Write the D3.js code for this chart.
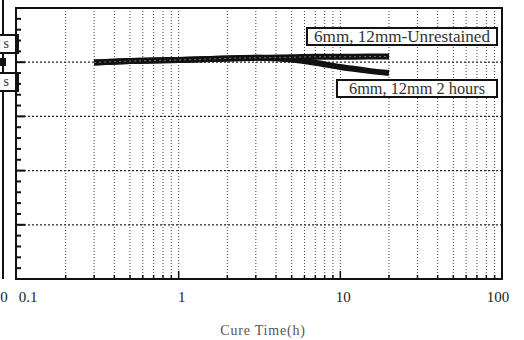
<!DOCTYPE html>
<html>
<head>
<meta charset="utf-8">
<script src="https://cdn.jsdelivr.net/npm/d3@7"></script>
<style>
  body { margin: 0; background: #fff; }
  text { font-family: "Liberation Serif", "DejaVu Serif", serif; }
</style>
</head>
<body>
<div id="chart"></div>
<script>
//Chart data
const cureTime = [0.3, 0.5, 0.7, 1, 2, 3, 5, 7, 10, 15, 20];
const unrestrained = [-0.005, 0.02, 0.03, 0.04, 0.07, 0.08, 0.09, 0.1, 0.1, 0.105, 0.105];
const twoHours = [-0.005, 0.02, 0.03, 0.04, 0.07, 0.08, 0.05, -0.01, -0.09, -0.16, -0.2];
const xTickLabels = [0.1, 1, 10, 100];
const yGridValues = [1, 0, -1, -2, -3, -4];
const legendLabels = ["6mm, 12mm-Unrestained", "6mm, 12mm 2 hours"];

//size of the svg
const width = 524;
const height = 340;

const svg = d3.select("#chart").append("svg")
  .attr("width", width)
  .attr("height", height);

//Scales
const xscale = d3.scaleLog().domain([0.1, 100]).range([17, 502]);
const yscale = d3.scaleLinear().domain([-4, 1]).range([279, 8]);

const plotLeft = 16, plotRight = 502, plotTop = 8, plotBottom = 279;

//Piece of the panel on the left (cut off in the picture)
svg.append("line")
  .attr("x1", 3).attr("x2", 3).attr("y1", 0).attr("y2", plotBottom)
  .attr("stroke", "#111").attr("stroke-width", 2);
svg.append("line")
  .attr("x1", 0).attr("x2", 6).attr("y1", 62).attr("y2", 62)
  .attr("stroke", "#111").attr("stroke-width", 8);
[[35, 53], [73, 91]].forEach(([y0, y1]) => {
  svg.append("rect")
    .attr("x", -40).attr("y", y0).attr("width", 58).attr("height", y1 - y0)
    .attr("fill", "#fff").attr("stroke", "#111").attr("stroke-width", 2);
  svg.append("text")
    .attr("x", 9).attr("y", y1 - 5)
    .attr("text-anchor", "end").attr("font-size", 14).attr("fill", "#333")
    .text("s");
});
svg.append("text")
  .attr("x", 4).attr("y", 302).attr("text-anchor", "middle")
  .attr("font-size", 15).attr("fill", "#222").text("0");

//Vertical grid lines (log minor ticks)
const xGrid = xscale.ticks().filter(d => d > 0.1 && d < 100);
svg.append("g").selectAll("line").data(xGrid).join("line")
  .attr("x1", d => xscale(d)).attr("x2", d => xscale(d))
  .attr("y1", plotTop).attr("y2", plotBottom)
  .attr("stroke", "#444").attr("stroke-width", 1)
  .attr("stroke-dasharray", "1,2");

//bottom ticks pointing up
svg.append("g").selectAll("line").data(xGrid).join("line")
  .attr("x1", d => xscale(d)).attr("x2", d => xscale(d))
  .attr("y1", plotBottom).attr("y2", d => plotBottom - (xTickLabels.includes(d) ? 8 : 4))
  .attr("stroke", "#111").attr("stroke-width", 1.5);

//Horizontal grid lines
svg.append("g").selectAll("line").data(yGridValues.slice(1, -1)).join("line")
  .attr("x1", plotLeft).attr("x2", plotRight)
  .attr("y1", d => yscale(d)).attr("y2", d => yscale(d))
  .attr("stroke", "#222").attr("stroke-width", 1.3)
  .attr("stroke-dasharray", "2,2");

//Left axis ticks (major + minor) pointing right
const yMinor = d3.range(-4, 1.0001, 0.2);
svg.append("g").selectAll("line").data(yMinor).join("line")
  .attr("x1", plotLeft).attr("y1", d => yscale(d)).attr("y2", d => yscale(d))
  .attr("x2", d => Math.abs(d - Math.round(d)) < 1e-6 ? plotLeft + 9 : plotLeft + 5)
  .attr("stroke", "#111").attr("stroke-width", 2);

//Frame
svg.append("rect")
  .attr("x", plotLeft).attr("y", plotTop)
  .attr("width", plotRight - plotLeft).attr("height", plotBottom - plotTop)
  .attr("fill", "none").attr("stroke", "#111").attr("stroke-width", 2);

//Data lines
const line = d3.line()
  .x((d, i) => xscale(cureTime[i]))
  .y(d => yscale(d))
  .curve(d3.curveMonotoneX);

[unrestrained, twoHours].forEach(series => {
  svg.append("path")
    .datum(series)
    .attr("d", line)
    .attr("fill", "none")
    .attr("stroke", "#111")
    .attr("stroke-width", 6)
    .attr("stroke-linecap", "butt");
});
//dotted core where both lines overlap
svg.append("path")
  .datum(unrestrained)
  .attr("d", line)
  .attr("fill", "none")
  .attr("stroke", "#777")
  .attr("stroke-width", 1)
  .attr("stroke-dasharray", "2,3");

//Legend boxes
const legendBoxes = [
  {x: 307, y: 28, w: 190, h: 17, tw: 176},
  {x: 337, y: 80, w: 160, h: 17, tw: 136}
];
legendLabels.forEach((label, i) => {
  const b = legendBoxes[i];
  svg.append("rect")
    .attr("x", b.x).attr("y", b.y).attr("width", b.w).attr("height", b.h)
    .attr("fill", "#fff").attr("stroke", "#111").attr("stroke-width", 2);
  svg.append("text")
    .attr("x", b.x + b.w / 2).attr("y", b.y + b.h - 3)
    .attr("text-anchor", "middle").attr("font-size", 16).attr("fill", "#333")
    .attr("textLength", b.tw).attr("lengthAdjust", "spacingAndGlyphs")
    .text(label);
});

//X tick labels
svg.append("g").selectAll("text").data(xTickLabels).join("text")
  .attr("x", d => d === 0.1 ? xscale(d) + 11 : xscale(d) + (d === 100 ? -4 : 3))
  .attr("y", 302)
  .attr("text-anchor", "middle")
  .attr("font-size", 15)
  .attr("fill", "#222")
  .text(d => d);

//X axis title
svg.append("text")
  .attr("x", 263).attr("y", 335)
  .attr("text-anchor", "middle")
  .attr("font-size", 14)
  .attr("letter-spacing", 0.8)
  .attr("fill", "#555")
  .text("Cure Time(h)");
</script>
</body>
</html>
